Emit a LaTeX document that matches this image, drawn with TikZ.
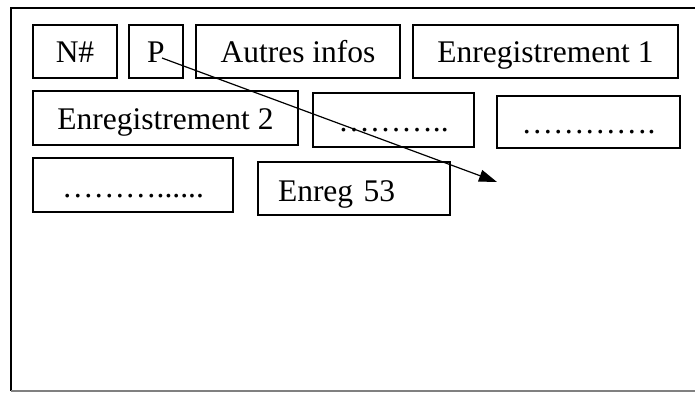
\documentclass[tikz,border=0pt]{standalone}
\usepackage{fontspec}
\setmainfont{Liberation Serif}
\usetikzlibrary{arrows.meta}

\tikzset{
  cell/.style={draw, line width=1.3pt, inner sep=0pt, minimum height=53pt,
    font=\fontsize{31.5}{36}\selectfont, text height=24pt, text depth=2pt},
  frame/.style={draw, line width=1.5pt},
  link/.style={line width=1.2pt, -{Triangle[length=18pt,width=12pt]}}
}

\begin{document}
\begin{tikzpicture}[x=1pt, y=-1pt]
  \useasboundingbox (0,0) rectangle (695,392);

  % outer record page
  \draw[frame] (11,391) -- (11,8) -- (710,8);
  \draw[line width=1.2pt, black!50] (11,391) -- (710,391);

  % first row: header fields and first record
  \node[cell, minimum width=84pt]  (num)    at (75,51.5)    {N\#};
  \node[cell, minimum width=54pt]  (ptr)    at (156,51.5)   {P};
  \node[cell, minimum width=204pt] (infos)  at (298,51.5)   {Autres infos};
  \node[cell, minimum width=265pt] (rec1)   at (545.5,51.5) {Enregistrement 1};

  % second row
  \node[cell, minimum width=265pt, minimum height=54pt] (rec2) at (165.5,118) {Enregistrement 2};
  \node[cell, minimum width=161pt, minimum height=54pt] (dotsa) at (393.5,120) {………..};
  \node[cell, minimum width=183pt, minimum height=52pt] (dotsb) at (588.5,122) {………….};

  % third row
  \node[cell, minimum width=200pt, minimum height=54pt, text height=25pt, text depth=1pt] (dotsc) at (133,185) {………......};
  \node[cell, minimum width=192pt, text width=152pt, align=left, inner xsep=20pt,
        text height=26pt, text depth=1pt] (rec53) at (354,188.5) {Enreg 53};

  % pointer from P to the free space
  \coordinate (pstart) at (162,58);
  \coordinate (free) at (497,182);
  \draw[link] (pstart) -- (free);
\end{tikzpicture}
\end{document}
